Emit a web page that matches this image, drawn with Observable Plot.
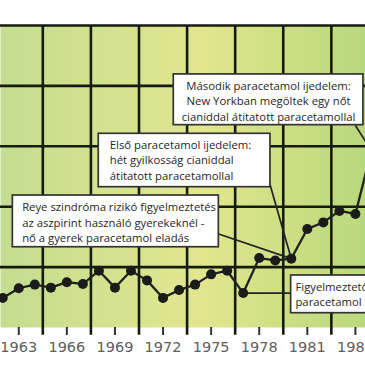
<!DOCTYPE html>
<html><head><meta charset="utf-8">
<script src="https://cdn.jsdelivr.net/npm/d3@7"></script>
<script src="https://cdn.jsdelivr.net/npm/@observablehq/plot@0.6"></script>
<style>
html,body{margin:0;padding:0;background:#fff;overflow:hidden;width:365px;height:365px}
#chart svg{overflow:hidden}
</style></head><body><div id="chart"></div>
<script>
// data series (relative paracetamol sales index)
const years = [1962,1963,1964,1965,1966,1967,1968,1969,1970,1971,1972,1973,1974,1975,1976,1977,1978,1979,1980,1981,1982,1983,1984,1985];
const sales = [0.49,0.65,0.71,0.66,0.75,0.72,0.94,0.66,0.94,0.78,0.49,0.62,0.71,0.88,0.94,0.57,1.15,1.11,1.14,1.63,1.74,1.93,1.88,2.93];

// axis / grid
const tickYears = [1963,1966,1969,1972,1975,1978,1981,1984];
const gridYears = [1964.5,1967.5,1970.5,1973.5,1976.5,1979.5,1982.5];
const gridValues = [1,2,3,4,5];

// annotations
const noteText = [
  "Második paracetamol ijedelem:\nNew Yorkban megöltek egy nőt\ncianiddal átitatott paracetamollal",
  "Első paracetamol ijedelem:\nhét gyilkosság cianiddal\nátitatott paracetamollal",
  "Reye szindróma rizikó figyelmeztetés\naz aszpirint használó gyerekeknél -\nnő a gyerek paracetamol eladás",
  "Figyelmeztetők a\nparacetamol túladagolásra"
];
const noteAlign = ["middle","start","start","start"];
const noteTextX = [1978.58, 1968.68, 1963.21, 1980.26];
const noteTextY = [3.76, 2.785, 1.749, 0.557];
const boxX1 = [1972.67, 1967.99, 1962.63, 1979.99];
const boxX2 = [1984.5, 1978.7, 1975.48, 1988];
const boxTop = [4.19, 3.207, 2.185, 0.861];
const boxBottom = [3.35, 2.323, 1.329, 0.237];
const leaderFromX = [1984.0, 1978.6, 1975.38, 1979.99];
const leaderFromY = [3.344, 2.434, 1.556, 0.57];
const leaderToYear = [1985, 1980, 1980, 1977];

const data = years.map((year, i) => ({year, sales: sales[i]}));
const notes = noteText.map((text, i) => ({
  text, align: noteAlign[i], tx: noteTextX[i], ty: noteTextY[i],
  x1: boxX1[i], x2: boxX2[i], y1: boxBottom[i], y2: boxTop[i],
  lx1: leaderFromX[i], ly1: leaderFromY[i],
  lx2: leaderToYear[i], ly2: sales[years.indexOf(leaderToYear[i])]
}));

const gridColor = "#161b10";
const fontNote = "'Open Sans', sans-serif";

const chart = Plot.plot({
  width: 365,
  height: 365,
  marginLeft: 0,
  marginRight: 0,
  marginTop: 25,
  marginBottom: 38,
  style: {fontFamily: "'DejaVu Sans', sans-serif", background: "#fff"},
  x: {domain: [1961.86, 1984.63], axis: null},
  y: {domain: [0, 5], axis: null},
  marks: [
    Plot.frame({fill: "url(#bg)", stroke: "none"}),
    Plot.ruleX(gridYears, {y1: -0.13, y2: 5, stroke: gridColor, strokeWidth: 2.6}),
    Plot.ruleY(gridValues, {stroke: gridColor, strokeWidth: 2.6}),
    Plot.axisX(tickYears, {tickSize: 8, tickPadding: 6, tickFormat: d => String(d), fontSize: 14.5, fill: "#5e5e5e", stroke: "#333", strokeWidth: 2}),
    Plot.link(notes, {x1: "lx1", y1: "ly1", x2: "lx2", y2: "ly2", stroke: "#222", strokeWidth: 1.7}),
    Plot.line(data, {x: "year", y: "sales", stroke: "#222", strokeWidth: 2.3}),
    Plot.dot(data, {x: "year", y: "sales", r: 5, fill: "#1b1b1b", stroke: "none"}),
    Plot.rect(notes, {x1: "x1", x2: "x2", y1: "y1", y2: "y2", fill: "#fff", stroke: "#333", strokeWidth: 1.7}),
    Plot.text(notes.filter(d => d.align === "middle"), {x: "tx", y: "ty", text: "text", textAnchor: "middle", lineAnchor: "middle", lineHeight: 1.36, fontSize: 11.3, fill: "#262626", fontFamily: fontNote}),
    Plot.text(notes.filter(d => d.align === "start"), {x: "tx", y: "ty", text: "text", textAnchor: "start", lineAnchor: "middle", lineHeight: 1.36, fontSize: 11.3, fill: "#262626", fontFamily: fontNote})
  ]
});

// background gradient definition
const defs = d3.create("svg:defs");
const grad = defs.append("linearGradient").attr("id", "bg").attr("x1", "0").attr("x2", "1").attr("y1", "0").attr("y2", "0");
grad.append("stop").attr("offset", "0%").attr("stop-color", "#c4dd90");
grad.append("stop").attr("offset", "55%").attr("stop-color", "#e2e68f");
grad.append("stop").attr("offset", "100%").attr("stop-color", "#b9d87c");
chart.insertBefore(defs.node(), chart.firstChild);

document.getElementById("chart").appendChild(chart);
</script>
</body></html>
